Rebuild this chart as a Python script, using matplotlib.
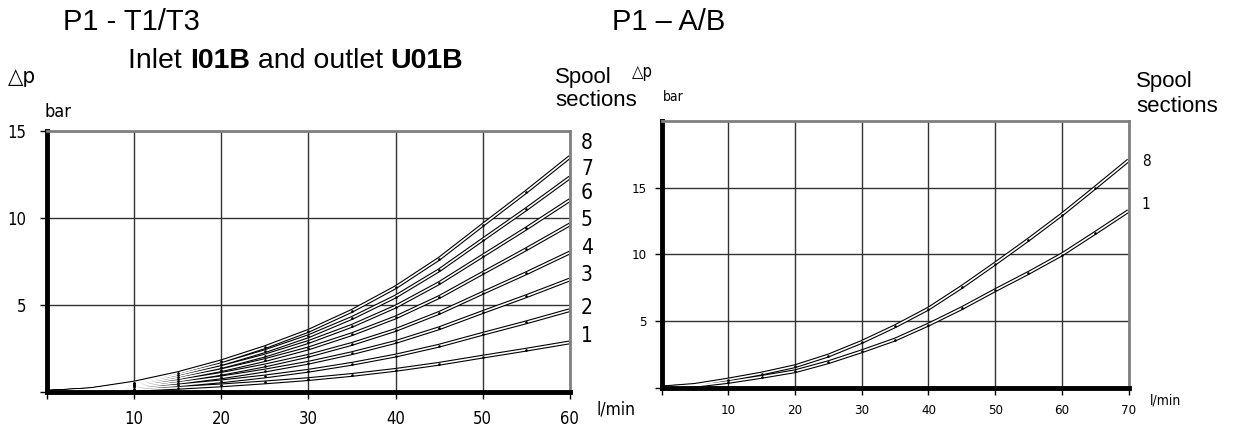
import matplotlib
matplotlib.use('Agg')
import matplotlib.pyplot as plt
from matplotlib.text import Annotation

# pressure drop curves
flow_t = [0, 5, 10, 15, 20, 25, 30, 35, 40, 45, 50, 55, 60]
dp_t_1 = [0, 0.04, 0.12, 0.24, 0.38, 0.55, 0.74, 0.98, 1.27, 1.62, 2.03, 2.43, 2.85]
dp_t_2 = [0, 0.06, 0.19, 0.38, 0.61, 0.89, 1.22, 1.62, 2.09, 2.66, 3.34, 4.00, 4.70]
dp_t_3 = [0, 0.08, 0.26, 0.52, 0.84, 1.23, 1.68, 2.23, 2.87, 3.66, 4.59, 5.50, 6.46]
dp_t_4 = [0, 0.10, 0.32, 0.64, 1.04, 1.52, 2.08, 2.76, 3.56, 4.54, 5.69, 6.82, 8.01]
dp_t_5 = [0, 0.12, 0.38, 0.77, 1.25, 1.83, 2.50, 3.32, 4.28, 5.45, 6.83, 8.20, 9.62]
dp_t_6 = [0, 0.13, 0.44, 0.88, 1.43, 2.09, 2.87, 3.80, 4.90, 6.25, 7.82, 9.39, 11.02]
dp_t_7 = [0, 0.15, 0.49, 0.99, 1.60, 2.34, 3.20, 4.25, 5.48, 6.99, 8.75, 10.50, 12.32]
dp_t_8 = [0, 0.16, 0.54, 1.08, 1.76, 2.57, 3.51, 4.66, 6.01, 7.65, 9.59, 11.50, 13.50]
sections_t = ['1', '2', '3', '4', '5', '6', '7', '8']

flow_ab = [0, 5, 10, 15, 20, 25, 30, 35, 40, 45, 50, 55, 60, 65, 70]
dp_ab_1 = [0, 0.13, 0.42, 0.80, 1.22, 1.90, 2.72, 3.60, 4.72, 5.95, 7.30, 8.60, 9.98, 11.60, 13.25]
dp_ab_8 = [0, 0.20, 0.60, 1.05, 1.60, 2.40, 3.42, 4.60, 5.92, 7.55, 9.30, 11.10, 12.98, 15.00, 17.05]
sections_ab = ['1', '8']

xticks_t = [0, 10, 20, 30, 40, 50, 60]
yticks_t = [0, 5, 10, 15]
xticks_ab = [0, 10, 20, 30, 40, 50, 60, 70]
yticks_ab = [0, 5, 10, 15]

W, H = 1239, 430
NARROW = dict(family=['DejaVu Sans'], stretch='condensed', weight='light')
SANS = ['Liberation Sans', 'DejaVu Sans']


def px(x, y):
    return x / W, 1 - y / H


def double_line(ax, x, y):
    ax.plot(x, y, color='black', lw=2.8, solid_capstyle='butt', zorder=3)
    ax.plot(x, y, color='white', lw=1.2, solid_capstyle='butt', zorder=4)
    ax.plot(x[2:], y[2:], ls='none', marker='.', ms=1.8, color='black', zorder=5)


def style_axes(ax, xt, yt, fs, pad_x, pad_y):
    ax.set_xticks(xt)
    ax.set_yticks(yt)
    ax.set_xticklabels([''] + [str(v) for v in xt[1:]], fontsize=fs, **NARROW)
    ax.set_yticklabels([''] + [str(v) for v in yt[1:]], fontsize=fs, **NARROW)
    ax.tick_params(axis='x', direction='out', length=5, width=1, pad=pad_x)
    ax.tick_params(axis='y', direction='out', length=5, width=1, pad=pad_y)
    ax.grid(True, color='0.2', lw=1.0, zorder=1)
    for s in ['left', 'bottom']:
        ax.spines[s].set_linewidth(3.5)
        ax.spines[s].set_color('black')
        ax.spines[s].set_zorder(6)
    for s in ['top', 'right']:
        ax.spines[s].set_linewidth(2.0)
        ax.spines[s].set_color('0.5')
        ax.spines[s].set_zorder(6)


fig = plt.figure(figsize=(W / 100, H / 100), dpi=100)

# left chart: P1 - T1/T3
ax1 = fig.add_axes([46.8 / W, 38 / H, 523.1 / W, 261.3 / H])
for dp in [dp_t_1, dp_t_2, dp_t_3, dp_t_4, dp_t_5, dp_t_6, dp_t_7, dp_t_8]:
    double_line(ax1, flow_t, dp)
ax1.set_xlim(0, 60)
ax1.set_ylim(0, 15)
style_axes(ax1, xticks_t, yticks_t, 12, 8, 10)

label_y_t = [336, 308, 275, 248, 220, 193, 169, 143]
for name, yy in zip(sections_t, label_y_t):
    fig.text(*px(587, yy), name, fontsize=15, ha='center', va='center', **NARROW)

# right chart: P1 - A/B
ax2 = fig.add_axes([661.7 / W, 42.5 / H, 466.8 / W, 266.5 / H])
for dp in [dp_ab_1, dp_ab_8]:
    double_line(ax2, flow_ab, dp)
ax2.set_xlim(0, 70)
ax2.set_ylim(0, 20)
style_axes(ax2, xticks_ab, yticks_ab, 9.5, 7, 6)

label_y_ab = [205, 162]
for name, yy in zip(sections_ab, label_y_ab):
    fig.text(*px(1146, yy), name, fontsize=11, ha='center', va='center', **NARROW)

# headings
fig.text(*px(63, 22), 'P1 - T1/T3', family=SANS, fontsize=21, va='center')
fig.text(*px(612, 22), 'P1 \u2013 A/B', family=SANS, fontsize=21, va='center')

prev = fig.text(*px(128, 74), 'Inlet ', family=SANS, fontsize=20.5, va='bottom')
for piece, wt in [('I01B', 'bold'), (' and outlet ', 'normal'), ('U01B', 'bold')]:
    prev = fig.add_artist(Annotation(piece, xy=(1, 0), xycoords=prev, va='bottom', ha='left',
                                     family=SANS, fontsize=20.5, weight=wt))

fig.text(*px(555, 77), 'Spool', family=SANS, fontsize=16, va='center')
fig.text(*px(555, 100), 'sections', family=SANS, fontsize=16, va='center')
fig.text(*px(1136, 82), 'Spool', family=SANS, fontsize=16, va='center')
fig.text(*px(1136, 106), 'sections', family=SANS, fontsize=16, va='center')

# axis units
fig.text(*px(8, 77), '\u25b3p', fontsize=16, va='center', **NARROW)
fig.text(*px(45, 112), 'bar', fontsize=13, va='center', **NARROW)
fig.text(*px(632, 72), '\u25b3p', fontsize=12, va='center', **NARROW)
fig.text(*px(663, 97), 'bar', fontsize=10, va='center', **NARROW)
fig.text(*px(597, 410), 'l/min', fontsize=12.5, va='center', **NARROW)
fig.text(*px(1150, 400), 'l/min', fontsize=10, va='center', **NARROW)

fig.savefig('out.png', dpi=100)
